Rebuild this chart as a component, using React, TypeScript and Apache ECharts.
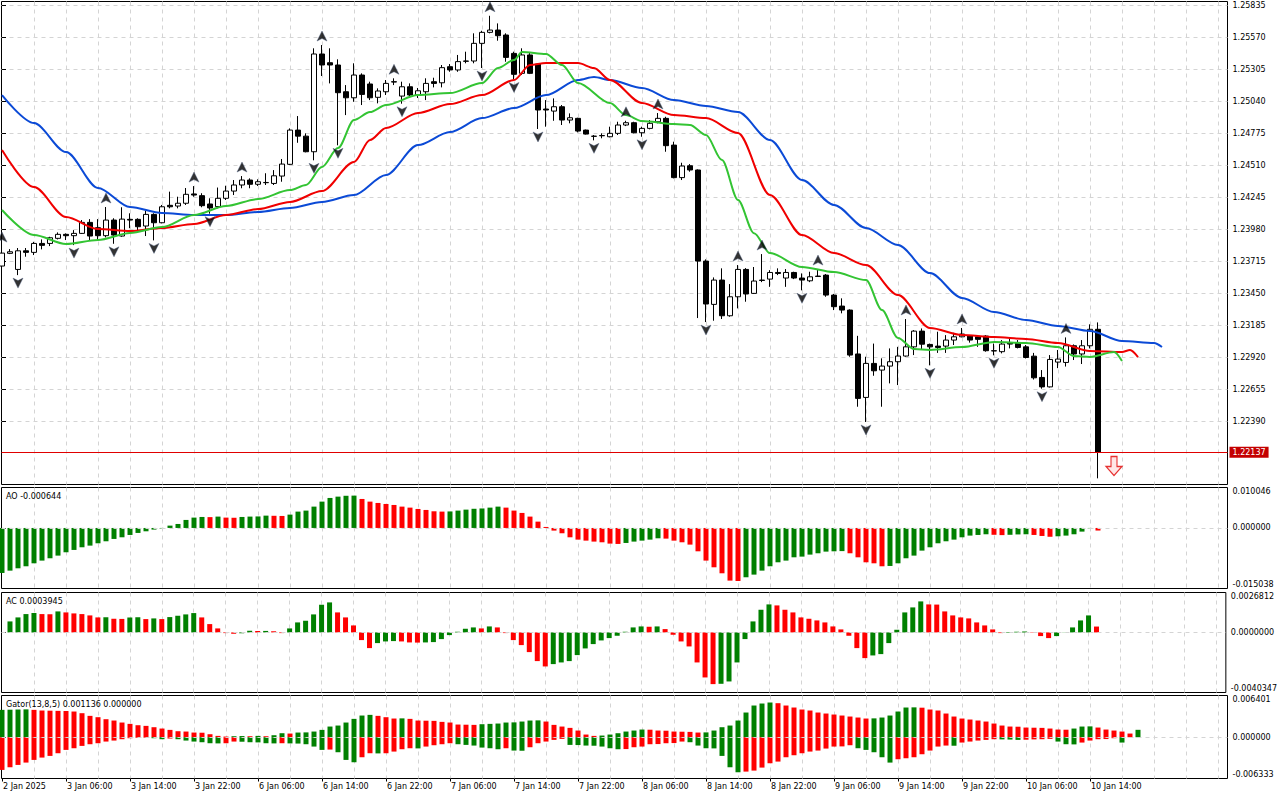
import React, { useEffect, useRef } from "react";
import * as echarts from "echarts";

// ---------- DATA ----------
const timeLabels = [
  "2 Jan 2025", "3 Jan 06:00", "3 Jan 14:00", "3 Jan 22:00", "6 Jan 06:00", "6 Jan 14:00",
  "6 Jan 22:00", "7 Jan 06:00", "7 Jan 14:00", "7 Jan 22:00", "8 Jan 06:00", "8 Jan 14:00",
  "8 Jan 22:00", "9 Jan 06:00", "9 Jan 14:00", "9 Jan 22:00", "10 Jan 06:00", "10 Jan 14:00",
];
const barsPerLabel = 8;

const priceTicks = [
  1.25835, 1.2557, 1.25305, 1.2504, 1.24775, 1.2451, 1.24245, 1.2398, 1.23715, 1.2345,
  1.23185, 1.2292, 1.22655, 1.2239,
];
const priceRange = [1.21871, 1.25864];
const aoRange = [-0.015038, 0.010046];
const acRange = [-0.0040347, 0.0026812];
const gatorRange = [-0.006333, 0.006401];

const opens = [
  1.23677, 1.23782, 1.23649, 1.23803, 1.2379, 1.23864, 1.23864, 1.23906, 1.23939, 1.23928,
  1.23947, 1.24038, 1.23994, 1.23928, 1.24057, 1.23925, 1.24063, 1.24063, 1.24008, 1.24104,
  1.24035, 1.24179, 1.24173, 1.24196, 1.24273, 1.24259, 1.2419, 1.24168, 1.24237, 1.24297,
  1.24347, 1.24388, 1.24353, 1.24366, 1.2436, 1.24421, 1.24518, 1.24801, 1.24751, 1.24622,
  1.2543, 1.25358, 1.25339, 1.25118, 1.25068, 1.25256, 1.25182, 1.25072, 1.25118, 1.25201,
  1.25082, 1.25159, 1.25091, 1.25118, 1.25201, 1.25192, 1.25325, 1.25298, 1.25372, 1.25372,
  1.25518, 1.25609, 1.25628, 1.25587, 1.25435, 1.2527, 1.25422, 1.25347, 1.24975, 1.24958,
  1.24994, 1.24884, 1.24898, 1.24801, 1.24751, 1.24754, 1.24746, 1.24774, 1.24843, 1.24862,
  1.24779, 1.24815, 1.2487, 1.24898, 1.24677, 1.24408, 1.24506, 1.24471, 1.23718, 1.2336,
  1.23561, 1.23266, 1.23423, 1.23649, 1.23451, 1.23561, 1.23569, 1.23624, 1.23578, 1.23624,
  1.23578, 1.23555, 1.23594, 1.23602, 1.23437, 1.23346, 1.23313, 1.2295, 1.22591, 1.22872,
  1.22817, 1.2285, 1.22886, 1.22933, 1.23009, 1.23139, 1.23029, 1.23015, 1.23015, 1.23065,
  1.23092, 1.231, 1.23092, 1.23098, 1.22977, 1.22969, 1.23043, 1.23043, 1.23009, 1.22932,
  1.22756, 1.22678, 1.22883, 1.2288, 1.23018, 1.2295, 1.23018, 1.23154,
];
const highs = [
  1.23842, 1.23817, 1.23826, 1.23826, 1.23877, 1.23897, 1.23919, 1.23955, 1.23947, 1.23974,
  1.24057, 1.24065, 1.24065, 1.24165, 1.24072, 1.24163, 1.24113, 1.24072, 1.24134, 1.24113,
  1.24182, 1.24292, 1.2425, 1.24322, 1.24338, 1.24279, 1.24237, 1.24326, 1.24341, 1.24388,
  1.24421, 1.24402, 1.24394, 1.24444, 1.2447, 1.24562, 1.24815, 1.24917, 1.24774, 1.25477,
  1.25504, 1.25477, 1.25386, 1.25173, 1.25353, 1.2527, 1.25201, 1.25146, 1.25215, 1.25229,
  1.25201, 1.25187, 1.25149, 1.25229, 1.25234, 1.25339, 1.25347, 1.25422, 1.25449, 1.25601,
  1.25622, 1.25746, 1.25683, 1.25601, 1.25449, 1.25477, 1.2544, 1.25353, 1.25049, 1.25063,
  1.25008, 1.24939, 1.24903, 1.24805, 1.2476, 1.24774, 1.24829, 1.2487, 1.24878, 1.2487,
  1.24829, 1.24884, 1.24942, 1.24911, 1.24705, 1.24531, 1.2452, 1.24476, 1.23732, 1.23583,
  1.23658, 1.23528, 1.23685, 1.2366, 1.23669, 1.23776, 1.23643, 1.23658, 1.23652, 1.2363,
  1.23616, 1.2363, 1.23652, 1.23611, 1.23446, 1.2341, 1.23319, 1.231, 1.22927, 1.23036,
  1.22914, 1.22996, 1.23009, 1.23239, 1.23147, 1.23161, 1.23036, 1.23134, 1.23106, 1.23125,
  1.23165, 1.23106, 1.23106, 1.23106, 1.23036, 1.23065, 1.23079, 1.23065, 1.23024, 1.22959,
  1.22817, 1.22941, 1.22983, 1.23087, 1.23029, 1.23065, 1.23195, 1.23211,
];
const lows = [
  1.2366, 1.23776, 1.23602, 1.23754, 1.23768, 1.23815, 1.23842, 1.23897, 1.23892, 1.2385,
  1.23942, 1.23892, 1.23892, 1.23914, 1.23861, 1.23919, 1.2399, 1.23961, 1.23925, 1.23889,
  1.2403, 1.24154, 1.24154, 1.24182, 1.2425, 1.24163, 1.2411, 1.24154, 1.24223, 1.24264,
  1.2432, 1.2432, 1.24339, 1.24347, 1.24347, 1.24374, 1.24512, 1.24696, 1.24617, 1.24551,
  1.25248, 1.25187, 1.24675, 1.24925, 1.25035, 1.25008, 1.25049, 1.25022, 1.25091, 1.25173,
  1.25019, 1.25077, 1.25066, 1.25049, 1.25154, 1.25154, 1.25283, 1.25283, 1.25353, 1.25353,
  1.25314, 1.25601, 1.2554, 1.25366, 1.2522, 1.25256, 1.25264, 1.2481, 1.24829, 1.24878,
  1.24843, 1.24857, 1.24782, 1.24764, 1.24716, 1.24733, 1.24741, 1.2476, 1.24834, 1.24774,
  1.24746, 1.24807, 1.24857, 1.24622, 1.24402, 1.24388, 1.24457, 1.23247, 1.23214, 1.23225,
  1.23239, 1.23258, 1.23327, 1.23382, 1.23446, 1.23544, 1.23505, 1.23602, 1.23505, 1.23569,
  1.23476, 1.23544, 1.23588, 1.23423, 1.23313, 1.23286, 1.22927, 1.22514, 1.22388, 1.2277,
  1.22514, 1.22707, 1.22693, 1.22927, 1.22941, 1.22983, 1.22856, 1.22959, 1.22959, 1.23024,
  1.23088, 1.23044, 1.23009, 1.22969, 1.22939, 1.22955, 1.22996, 1.22996, 1.22913, 1.22739,
  1.22663, 1.22673, 1.22833, 1.22846, 1.229, 1.22867, 1.22996, 1.21922,
];
const closes = [
  1.23784, 1.23795, 1.23803, 1.2379, 1.23864, 1.23848, 1.23911, 1.23939, 1.23928, 1.23947,
  1.24038, 1.23925, 1.23928, 1.24057, 1.23933, 1.24065, 1.24057, 1.24002, 1.24104, 1.24035,
  1.24167, 1.24167, 1.24196, 1.2427, 1.24264, 1.24176, 1.24157, 1.24237, 1.24297, 1.24347,
  1.24388, 1.24353, 1.24374, 1.24368, 1.24423, 1.2452, 1.24801, 1.24751, 1.24622, 1.2543,
  1.25339, 1.25339, 1.2511, 1.25068, 1.25256, 1.25096, 1.25068, 1.25124, 1.25187, 1.25198,
  1.25159, 1.25091, 1.25126, 1.25187, 1.25187, 1.25317, 1.25298, 1.25367, 1.2537, 1.25518,
  1.25609, 1.25628, 1.25581, 1.25402, 1.25262, 1.25422, 1.2527, 1.24967, 1.24967, 1.24994,
  1.24884, 1.24903, 1.24793, 1.24768, 1.24749, 1.24756, 1.24774, 1.24843, 1.24862, 1.24779,
  1.24815, 1.24857, 1.24898, 1.24672, 1.24408, 1.24504, 1.24471, 1.23718, 1.23363, 1.23561,
  1.23266, 1.23423, 1.23649, 1.23446, 1.23553, 1.23558, 1.23624, 1.23616, 1.23624, 1.23578,
  1.23561, 1.23588, 1.23591, 1.23437, 1.23341, 1.23313, 1.22941, 1.22583, 1.22872, 1.22811,
  1.2285, 1.22886, 1.22933, 1.23009, 1.23139, 1.23031, 1.23009, 1.23004, 1.23065, 1.23092,
  1.23115, 1.23065, 1.23071, 1.22977, 1.22975, 1.23032, 1.23032, 1.23004, 1.22921, 1.22753,
  1.22678, 1.22905, 1.22908, 1.23018, 1.2295, 1.23018, 1.23154, 1.22137,
];

// Alligator (bar index, price) read at sample bars
const jaw = [
  [0, 1.2509], [4, 1.24859], [8, 1.24619], [12, 1.24322], [16, 1.24165], [20, 1.24116],
  [24, 1.24099], [28, 1.24099], [32, 1.24124], [36, 1.24157], [40, 1.24207], [44, 1.24264],
  [48, 1.2443], [52, 1.24677], [56, 1.24785], [60, 1.249], [64, 1.24983], [68, 1.2509],
  [72, 1.25215], [74, 1.2524], [76, 1.25215], [80, 1.25149], [84, 1.25049], [88, 1.25],
  [92, 1.2495], [96, 1.24719], [100, 1.24388], [104, 1.24182], [108, 1.23991], [112, 1.23851],
  [116, 1.23619], [120, 1.23413], [124, 1.23297], [128, 1.23231], [132, 1.23181], [136, 1.2314],
  [140, 1.23057], [144, 1.23041], [145, 1.23008],
];
const teeth = [
  [0, 1.24636], [4, 1.2433], [8, 1.24082], [12, 1.23983], [16, 1.23966], [20, 1.23991],
  [24, 1.24024], [28, 1.24099], [32, 1.24148], [36, 1.24207], [40, 1.24297], [44, 1.24537],
  [46, 1.24719], [48, 1.24818], [52, 1.24942], [56, 1.25016], [60, 1.2509], [64, 1.25215],
  [66, 1.25339], [68, 1.25355], [72, 1.25355], [74, 1.25314], [76, 1.25215], [80, 1.25024],
  [84, 1.24925], [88, 1.249], [92, 1.24776], [96, 1.24264], [100, 1.23933], [104, 1.23784],
  [108, 1.23685], [112, 1.23437], [116, 1.23165], [120, 1.23107], [124, 1.2309], [128, 1.23074],
  [132, 1.23041], [136, 1.22975], [140, 1.22966], [141, 1.22983], [142, 1.22925],
];
const lips = [
  [0, 1.2414], [4, 1.23933], [8, 1.23859], [12, 1.23892], [16, 1.2395], [20, 1.23999],
  [24, 1.24099], [28, 1.24173], [32, 1.24231], [36, 1.24305], [38, 1.24347], [40, 1.24495],
  [42, 1.24652], [44, 1.24884], [46, 1.2495], [48, 1.25008], [52, 1.2509], [56, 1.25107],
  [60, 1.2519], [62, 1.25314], [64, 1.2538], [65, 1.25446], [68, 1.2543], [70, 1.25339],
  [72, 1.2519], [76, 1.25024], [78, 1.24925], [80, 1.24876], [84, 1.24851], [86, 1.24843],
  [88, 1.2476], [90, 1.24553], [92, 1.24223], [94, 1.23949], [96, 1.23784], [100, 1.23669],
  [104, 1.23627], [108, 1.23561], [110, 1.23313], [112, 1.23082], [114, 1.22991], [116, 1.22983],
  [120, 1.23007], [124, 1.23049], [128, 1.23041], [132, 1.23008], [134, 1.22933], [136, 1.22925],
  [139, 1.22966], [140, 1.22892],
];

const upFractalBars = [0, 13, 24, 30, 40, 49, 61, 78, 82, 92, 95, 102, 113, 120, 133];
const downFractalBars = [2, 9, 14, 19, 26, 39, 42, 50, 60, 64, 67, 74, 80, 88, 100, 108, 116, 124, 130];
const sellSignal = [139, 1.22024];

const aoValues = [
  -0.01118, -0.0106, -0.01002, -0.00952, -0.00878, -0.00811, -0.00753, -0.00687, -0.00604, -0.00546,
  -0.0048, -0.00439, -0.00381, -0.00331, -0.00273, -0.00232, -0.00174, -0.00124, -0.00083, -0.00041,
  -0.00012, 0.00058, 0.00099, 0.00199, 0.00257, 0.00273, 0.00269, 0.00282, 0.00257, 0.00253,
  0.00273, 0.00282, 0.00286, 0.00306, 0.00302, 0.00298, 0.00331, 0.00406, 0.00431, 0.0053,
  0.00654, 0.00745, 0.00778, 0.00799, 0.00803, 0.0072, 0.00654, 0.00621, 0.00596, 0.00571,
  0.0053, 0.00505, 0.00472, 0.00447, 0.00414, 0.00406, 0.0041, 0.00431, 0.00455, 0.00476,
  0.00484, 0.00505, 0.0053, 0.00505, 0.00431, 0.00373, 0.00282, 0.00157, 0.00025, -0.00066,
  -0.00132, -0.00232, -0.0029, -0.00315, -0.00339, -0.00356, -0.00389, -0.00397, -0.00373, -0.00339,
  -0.00315, -0.0029, -0.00257, -0.00265, -0.00315, -0.00356, -0.00414, -0.0058, -0.00811, -0.00977,
  -0.01126, -0.01308, -0.01317, -0.01225, -0.01159, -0.0106, -0.00952, -0.00853, -0.00811, -0.00729,
  -0.00712, -0.00662, -0.00629, -0.00588, -0.0058, -0.00575, -0.00629, -0.00729, -0.00853, -0.00878,
  -0.00952, -0.00944, -0.00878, -0.00753, -0.00687, -0.00563, -0.0048, -0.00381, -0.00331, -0.0029,
  -0.00232, -0.0019, -0.00174, -0.00157, -0.0017, -0.00178, -0.0017, -0.00161, -0.00157, -0.00174,
  -0.00199, -0.00219, -0.00207, -0.0019, -0.00157, -0.00091, -0.00008, -0.000644,
];
const acValues = [
  null, 0.000739, 0.001008, 0.001232, 0.001299, 0.001232, 0.001221, 0.001411, 0.001344, 0.001277,
  0.001232, 0.001142, 0.001008, 0.001019, 0.000918, 0.000907, 0.001008, 0.001019, 0.000896, 0.000941,
  0.000896, 0.00103, 0.00112, 0.00121, 0.001299, 0.001008, 0.00056, 0.000269, -0.000045, -0.00009,
  -0.000056, 0.000112, 0.00009, 0.000101, 0.000078, -0.000045, 0.000269, 0.000672, 0.000784, 0.00121,
  0.001859, 0.002016, 0.001344, 0.001008, 0.00047, -0.000515, -0.001053, -0.000717, -0.000605, -0.000582,
  -0.000605, -0.000672, -0.000683, -0.000672, -0.00065, -0.000448, -0.000179, 0.000045, 0.000246, 0.000336,
  0.000269, 0.000403, 0.000336, -0.000045, -0.000515, -0.000851, -0.001322, -0.001926, -0.002285, -0.002128,
  -0.002016, -0.001926, -0.001523, -0.001075, -0.000784, -0.000538, -0.000381, -0.000224, 0.000045, 0.000336,
  0.000403, 0.000381, 0.000403, 0.000224, -0.000157, -0.000605, -0.000941, -0.002016, -0.003024, -0.003472,
  -0.00345, -0.003293, -0.002016, -0.000448, 0.000739, 0.001523, 0.001882, 0.001814, 0.001523, 0.001344,
  0.001008, 0.000918, 0.000806, 0.000672, 0.000403, 0.000202, -0.000224, -0.001053, -0.001725, -0.001546,
  -0.001456, -0.000717, 0.000179, 0.001344, 0.00168, 0.002083, 0.001882, 0.00187, 0.001411, 0.001142,
  0.001008, 0.000941, 0.000672, 0.00047, 0.000202, -0.000045, -0.000034, 0.000045, 0.000056, -0.000022,
  -0.000246, -0.000381, -0.000246, 0.000011, 0.000336, 0.000806, 0.001142, 0.0003945,
];
const gatorUpper = [
  0.004198, 0.004224, 0.00425, 0.004275, 0.004198, 0.004096, 0.00407, 0.004045, 0.004019, 0.003942,
  0.003686, 0.003277, 0.003072, 0.002765, 0.00256, 0.002253, 0.002048, 0.001843, 0.001741, 0.001536,
  0.001331, 0.001126, 0.000922, 0.00087, 0.000717, 0.000691, 0.000461, 0.000205, 0.000102, 0.000154,
  0.000179, 0.000154, 0.000205, 0.000154, 0.000307, 0.000614, 0.000563, 0.000717, 0.000742, 0.00087,
  0.001126, 0.001638, 0.001792, 0.002253, 0.002816, 0.003328, 0.00343, 0.003277, 0.003072, 0.002867,
  0.002893, 0.002816, 0.00256, 0.002534, 0.002509, 0.002355, 0.002253, 0.001946, 0.00192, 0.001894,
  0.001997, 0.002048, 0.002099, 0.002253, 0.002278, 0.002406, 0.00256, 0.002586, 0.002406, 0.001894,
  0.001638, 0.001434, 0.001024, 0.00041, 0.000205, 0.000256, 0.00041, 0.000614, 0.00087, 0.001024,
  0.001178, 0.001152, 0.001024, 0.000998, 0.00087, 0.000845, 0.000819, 0.000717, 0.000742, 0.001024,
  0.001536, 0.001792, 0.00256, 0.003789, 0.004864, 0.005171, 0.005325, 0.005222, 0.004864, 0.004557,
  0.00425, 0.004096, 0.003789, 0.003635, 0.003482, 0.003328, 0.003174, 0.003021, 0.002867, 0.002893,
  0.003021, 0.003328, 0.003942, 0.004557, 0.004582, 0.004531, 0.00425, 0.004096, 0.003635, 0.003174,
  0.002867, 0.002714, 0.00256, 0.002406, 0.002099, 0.001792, 0.001638, 0.001613, 0.001485, 0.001459,
  0.001434, 0.001331, 0.001178, 0.001152, 0.001331, 0.001638, 0.001664, 0.001485, 0.001178, 0.001024,
  0.00087, 0.000563, 0.001136,
];
const gatorLower = [
  -0.005018, -0.004608, -0.00425, -0.003891, -0.003482, -0.003123, -0.002867, -0.002458, -0.001946, -0.00169,
  -0.001331, -0.001075, -0.000922, -0.000666, -0.000512, -0.000307, -0.000154, -0.000102, -0.000077, -0.000154,
  -0.000307, -0.000205, -0.000307, -0.000512, -0.000666, -0.000768, -0.000922, -0.000947, -0.000922, -0.000666,
  -0.000691, -0.000768, -0.000794, -0.000922, -0.000947, -0.000922, -0.000947, -0.000973, -0.001075, -0.001434,
  -0.001946, -0.001894, -0.002304, -0.003482, -0.00384, -0.003072, -0.002458, -0.002483, -0.002458, -0.002202,
  -0.001843, -0.00169, -0.001715, -0.001434, -0.001229, -0.001075, -0.000922, -0.001075, -0.001178, -0.00128,
  -0.001587, -0.00169, -0.001843, -0.00169, -0.002048, -0.002074, -0.001536, -0.000922, -0.000666, -0.00041,
  -0.000256, -0.001178, -0.001203, -0.00128, -0.001306, -0.001434, -0.00169, -0.001843, -0.001818, -0.001536,
  -0.001434, -0.001075, -0.00105, -0.000922, -0.000896, -0.000666, -0.000768, -0.00128, -0.00169, -0.001715,
  -0.002867, -0.004608, -0.005376, -0.005274, -0.00512, -0.004659, -0.003994, -0.003738, -0.003072, -0.002765,
  -0.002458, -0.002202, -0.002048, -0.001741, -0.001434, -0.001408, -0.001229, -0.00169, -0.001946, -0.002304,
  -0.003072, -0.003891, -0.003379, -0.003226, -0.003072, -0.002611, -0.002048, -0.001434, -0.00128, -0.001306,
  -0.000819, -0.000666, -0.000512, -0.00041, -0.000307, -0.000333, -0.000358, -0.00041, -0.000384, -0.000333,
  -0.000307, -0.000256, -0.000666, -0.001075, -0.001101, -0.000819, -0.000512, -0.000307, -0.000282, -0.000154,
  -0.000819,
];

// ---------- STYLE / LAYOUT ----------
const FONT = "DejaVu Sans";
const GREEN = "#008000";
const RED = "#ff0000";
const GRID_LINE = { color: "#d4d4d4", type: [4, 4], width: 1 };
const X_MIN = -0.0625;
const X_MAX = 153.1875;
const gridXs: number[] = [];
for (let v = 4; v <= 152; v += 4) gridXs.push(v);
const labelBars = timeLabels.map((_, k) => k * barsPerLabel);

const UP_FRACTAL = "path://M5,0L10,10L5,7.5L0,10Z";
const DOWN_FRACTAL = "path://M0,0L5,2.5L10,0L5,10Z";
const SELL_ARROW = "path://M5,0H11V10H16L8,19L0,10H5Z";

function colored(vals: (number | null)[], useAbs: boolean) {
  const m = (v: number) => (useAbs ? Math.abs(v) : v);
  const out: any[] = [];
  vals.forEach((v, i) => {
    if (v == null) return;
    const prev = i > 0 ? vals[i - 1] : null;
    let up: boolean;
    if (prev != null) up = m(v) > m(prev);
    else {
      const next = vals[i + 1];
      up = next != null ? m(next) > m(v) : true;
    }
    out.push({ value: [i, v], itemStyle: { color: up ? GREEN : RED } });
  });
  return out;
}

const zeroLine = {
  symbol: "none",
  silent: true,
  precision: 10,
  label: { show: false },
  lineStyle: { color: "#d4d4d4", type: [4, 4], width: 1 },
  data: [{ yAxis: 0 }],
};

function baseX(gridIndex: number) {
  return {
    type: "value",
    gridIndex,
    min: X_MIN,
    max: X_MAX,
    axisLine: { show: false },
    axisTick: { show: false, customValues: gridXs },
    axisLabel: { show: false },
    splitLine: { show: true, lineStyle: GRID_LINE },
  };
}

function subY(gridIndex: number, range: number[], dec: number) {
  const vals = [range[0], 0, range[1]];
  return {
    type: "value",
    gridIndex,
    position: "right",
    min: range[0],
    max: range[1],
    axisLine: { show: false },
    axisTick: { show: true, length: 4, customValues: vals, lineStyle: { color: "#000" } },
    axisLabel: {
      customValues: vals,
      formatter: (v: number) => v.toFixed(dec),
      margin: 5,
      fontSize: 8,
      color: "#000",
      fontFamily: FONT,
      verticalAlignMinLabel: "bottom",
      verticalAlignMaxLabel: "top",
    },
    splitLine: { show: false },
  };
}

function buildOption() {
  const grid = {
    left: 1.5,
    width: 1226,
    show: true,
    borderColor: "#000",
    borderWidth: 1,
    backgroundColor: "transparent",
    containLabel: false,
  };
  const titleStyle = { fontSize: 8, fontWeight: "normal", color: "#000", fontFamily: FONT };
  const candleData = opens.map((o, i) => [i, o, closes[i], lows[i], highs[i]]);
  const lastClose = closes[closes.length - 1];
  const lineBase = { type: "line", xAxisIndex: 0, yAxisIndex: 0, showSymbol: false, symbol: "none", smooth: 0.3, smoothMonotone: "x", z: 3 };

  return {
    animation: false,
    backgroundColor: "#fff",
    textStyle: { fontFamily: FONT },
    title: [
      { text: `AO ${aoValues[aoValues.length - 1].toFixed(6)}`, left: 6, top: 492, padding: 0, textStyle: titleStyle },
      { text: `AC ${(acValues[acValues.length - 1] as number).toFixed(7)}`, left: 6, top: 597, padding: 0, textStyle: titleStyle },
      {
        text: `Gator(13,8,5) ${gatorUpper[gatorUpper.length - 1].toFixed(6)} ${(0).toFixed(6)}`,
        left: 6, top: 700, padding: 0, textStyle: titleStyle,
      },
    ],
    grid: [
      { ...grid, top: 1.5, height: 483 },
      { ...grid, top: 487.5, height: 101 },
      { ...grid, top: 592.5, height: 100 },
      { ...grid, top: 695.5, height: 83 },
    ],
    xAxis: [
      baseX(0), baseX(1), baseX(2), baseX(3),
      {
        type: "value",
        gridIndex: 3,
        position: "bottom",
        min: X_MIN,
        max: X_MAX,
        axisLine: { show: false },
        axisTick: { show: true, length: 3, customValues: labelBars, lineStyle: { color: "#000" } },
        axisLabel: {
          show: true,
          customValues: labelBars,
          formatter: (v: number) => timeLabels[Math.round(v / barsPerLabel)] || "",
          align: "left",
          margin: 4,
          fontSize: 8,
          color: "#000",
          fontFamily: FONT,
          padding: [0, 0, 0, 1],
        },
        splitLine: { show: false },
      },
    ],
    yAxis: [
      {
        type: "value",
        gridIndex: 0,
        position: "right",
        min: priceRange[0],
        max: priceRange[1],
        axisLine: { show: false },
        axisTick: { show: true, length: 4, customValues: priceTicks, lineStyle: { color: "#000" } },
        axisLabel: {
          customValues: priceTicks,
          formatter: (v: number) => v.toFixed(5),
          margin: 5,
          fontSize: 8,
          color: "#000",
          fontFamily: FONT,
        },
        splitLine: { show: true, lineStyle: GRID_LINE },
      },
      subY(1, aoRange, 6),
      subY(2, acRange, 7),
      subY(3, gatorRange, 6),
    ],
    series: [
      {
        type: "candlestick",
        xAxisIndex: 0,
        yAxisIndex: 0,
        data: candleData,
        encode: { x: 0, y: [1, 2, 3, 4] },
        barWidth: 5,
        z: 2,
        itemStyle: {
          color: "#ffffff",
          color0: "#000000",
          borderColor: "#000000",
          borderColor0: "#000000",
          borderColorDoji: "#000000",
          borderWidth: 1,
        },
      },
      {
        ...lineBase,
        data: jaw,
        lineStyle: { color: "#0b4ad6", width: 2 },
        markLine: {
          symbol: "none",
          silent: true,
          precision: 5,
          lineStyle: { color: "#e00000", width: 1, type: "solid" },
          label: {
            show: true,
            position: "end",
            formatter: () => lastClose.toFixed(5),
            color: "#fff",
            backgroundColor: "#c40000",
            padding: [2, 3, 1, 3],
            fontSize: 8,
            fontFamily: FONT,
            distance: 2,
          },
          data: [{ yAxis: lastClose }],
        },
      },
      { ...lineBase, data: teeth, lineStyle: { color: "#f00000", width: 2 } },
      { ...lineBase, data: lips, lineStyle: { color: "#33c433", width: 2 } },
      {
        type: "scatter", xAxisIndex: 0, yAxisIndex: 0,
        data: upFractalBars.map((i) => [i, highs[i]]),
        symbol: UP_FRACTAL, symbolSize: [10, 10], symbolOffset: [0, -9],
        itemStyle: { color: "#000", borderColor: "#45577a", borderWidth: 0.5 }, z: 4,
      },
      {
        type: "scatter", xAxisIndex: 0, yAxisIndex: 0,
        data: downFractalBars.map((i) => [i, lows[i]]),
        symbol: DOWN_FRACTAL, symbolSize: [10, 10], symbolOffset: [0, 8],
        itemStyle: { color: "#000", borderColor: "#45577a", borderWidth: 0.5 }, z: 4,
      },
      {
        type: "scatter", xAxisIndex: 0, yAxisIndex: 0,
        data: [sellSignal],
        symbol: SELL_ARROW, symbolSize: [16, 19],
        itemStyle: { color: "#ffe0e0", borderColor: "#e00000", borderWidth: 1.2 }, z: 4,
      },
      { type: "bar", xAxisIndex: 1, yAxisIndex: 1, data: colored(aoValues, false), barWidth: 5, markLine: zeroLine },
      { type: "bar", xAxisIndex: 2, yAxisIndex: 2, data: colored(acValues, false), barWidth: 5, markLine: zeroLine },
      { type: "bar", xAxisIndex: 3, yAxisIndex: 3, stack: "gator", data: colored(gatorUpper, true), barWidth: 5, markLine: zeroLine },
      { type: "bar", xAxisIndex: 3, yAxisIndex: 3, stack: "gator", data: colored(gatorLower, true), barWidth: 5 },
    ],
  };
}

export default function App() {
  const ref = useRef<HTMLDivElement>(null);
  useEffect(() => {
    if (!ref.current) return;
    const chart = echarts.init(ref.current, null, { renderer: "svg" });
    chart.setOption(buildOption() as any);
    return () => chart.dispose();
  }, []);
  return (
    <div
      ref={ref}
      style={{ position: "fixed", left: 0, top: 0, width: 1280, height: 800, background: "#fff" }}
    />
  );
}
